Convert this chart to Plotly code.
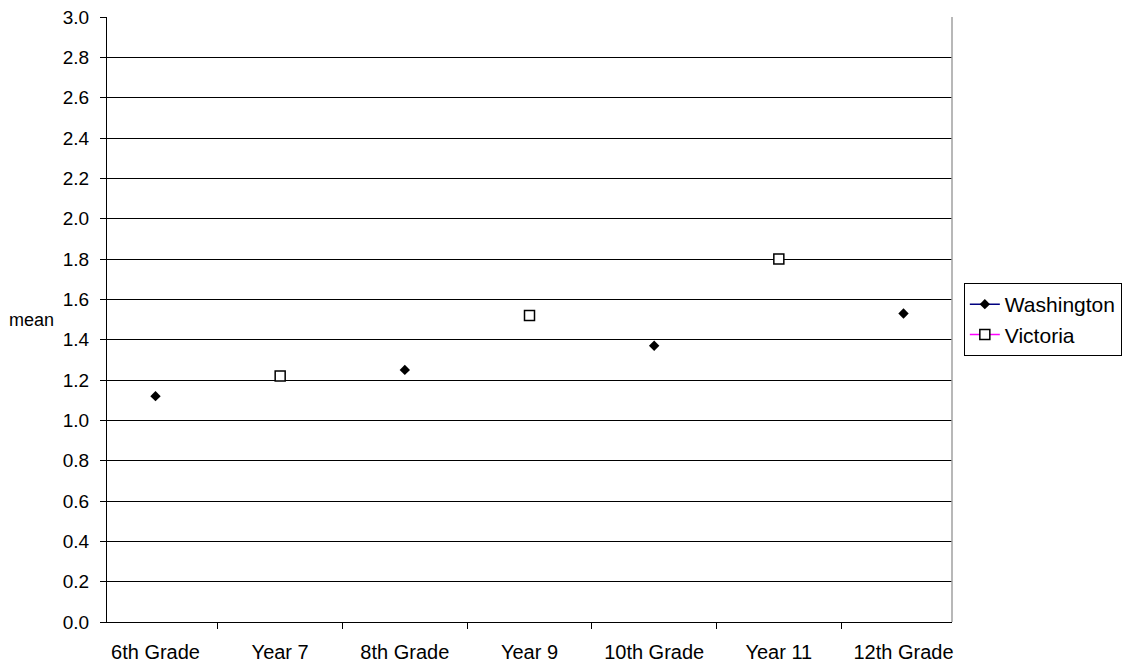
import plotly.graph_objects as go

categories = ["6th Grade", "Year 7", "8th Grade", "Year 9", "10th Grade", "Year 11", "12th Grade"]
washington = [1.12, None, 1.25, None, 1.37, None, 1.53]
victoria = [None, 1.22, None, 1.52, None, 1.80, None]
y_ticks = [round(i * 0.2, 1) for i in range(16)]

FAMILY = "Arial, Liberation Sans, sans-serif"
X_FONT = dict(family=FAMILY, size=20, color="#000000")
Y_FONT = dict(family=FAMILY, size=19, color="#000000")
LEGEND_FONT = dict(family=FAMILY, size=21, color="#000000")

fig = go.Figure()
fig.add_trace(go.Scatter(
    x=categories, y=washington, name="Washington", mode="lines+markers",
    connectgaps=False,
    line=dict(color="#000080", width=1.5),
    marker=dict(symbol="diamond", size=8, color="#000000", line=dict(width=0)),
))
fig.add_trace(go.Scatter(
    x=categories, y=victoria, name="Victoria", mode="lines+markers",
    connectgaps=False,
    line=dict(color="#FF00FF", width=1.5),
    marker=dict(symbol="square", size=10, color="#FFFFFF", line=dict(color="#000000", width=1.5)),
))

fig.update_layout(
    width=1136, height=665,
    margin=dict(l=107, r=184, t=17, b=43),
    paper_bgcolor="#FFFFFF", plot_bgcolor="#FFFFFF",
    font=Y_FONT,
    showlegend=True,
    legend=dict(
        x=1.014, xanchor="left", y=0.5, yanchor="middle",
        bordercolor="#000000", borderwidth=1, bgcolor="#FFFFFF",
        font=LEGEND_FONT, tracegroupgap=0,
    ),
)
fig.update_xaxes(
    type="category", categoryorder="array", categoryarray=categories,
    tickson="boundaries", ticks="outside", ticklen=6, tickcolor="#000000",
    showline=True, linecolor="#000000", linewidth=1,
    showgrid=False, zeroline=False, tickfont=X_FONT,
    ticklabelstandoff=12, automargin=False,
)
fig.update_yaxes(
    range=[0, 3.0], tickvals=y_ticks, ticktext=[f"{v:.1f}" for v in y_ticks],
    ticks="outside", ticklen=6, tickcolor="#000000",
    showline=True, linecolor="#000000", linewidth=1,
    showgrid=True, gridcolor="#000000", gridwidth=1,
    zeroline=False, tickfont=Y_FONT, automargin=False,
    ticklabelstandoff=7,
)
# right edge of the plot frame
fig.add_shape(type="line", xref="paper", yref="paper", x0=1, x1=1, y0=0, y1=1,
              line=dict(color="#A0A0A0", width=1.5))
fig.add_annotation(text="mean", xref="paper", yref="paper", x=-0.118, y=0.5,
                   xanchor="left", yanchor="middle", showarrow=False,
                   font=dict(family=FAMILY, size=18, color="#000000"))

fig.write_html("out.html")
